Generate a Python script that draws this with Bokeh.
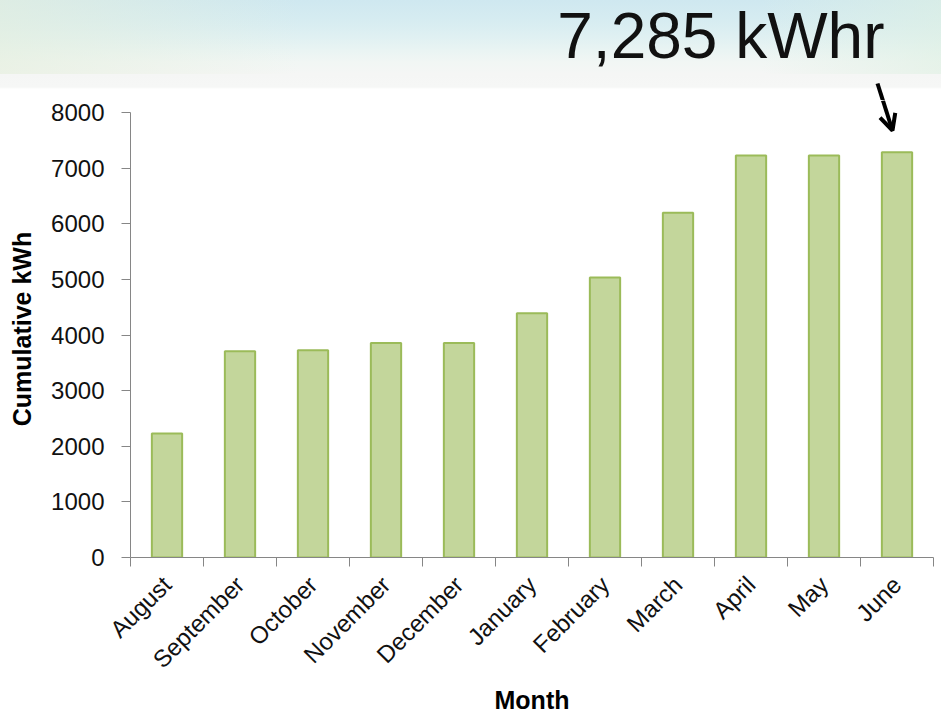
import math
from bokeh.plotting import figure
from bokeh.layouts import column
from bokeh.models import (Range1d, LinearAxis, FixedTicker, Label,
                          Arrow, OpenHead, ColumnDataSource)
from bokeh.embed import file_html
from bokeh.resources import INLINE

# ---- data ----
months = ["August", "September", "October", "November", "December", "January",
          "February", "March", "April", "May", "June"]
cumulative_kwh = [2230, 3710, 3725, 3855, 3855, 4390, 5035, 6200, 7225, 7225, 7285]
y_ticks = [0, 1000, 2000, 3000, 4000, 5000, 6000, 7000, 8000]

FONT = "Liberation Sans"
AXIS_GRAY = "#868686"
W, H = 941, 717
HEADER_H = 100                 # header strip (gradient + call-out text)
FRAME_L, FRAME_R = 130, 933    # plot frame, page px
Y8000_ROW, Y0_ROW = 112, 557   # rows of 8000 and 0

n = len(months)
slot_px = (FRAME_R - FRAME_L) / n
centers = [i + 0.5 for i in range(n)]
src = ColumnDataSource(dict(month=months, x=centers, kwh=cumulative_kwh))

def xpos(px):
    """page column -> slot coordinate"""
    return (px - FRAME_L) / slot_px

# ---------------- header strip ----------------
header_bg = (
    "linear-gradient(to right, rgba(229,239,221,0.65) 0px, rgba(229,239,221,0) 300px, "
    "rgba(222,240,226,0) 760px, rgba(222,240,226,0.6) 941px) 0 0 / 100% 74px no-repeat, "
    "linear-gradient(to bottom, #cfe8f0 0px, #d6ecf1 20px, #dff0f2 36px, #e9f4f3 50px, "
    "#f1f6f4 62px, #f5f6f5 74px, #f6f7f6 87px, #ffffff 89px, #ffffff 100%)"
)
hdr = figure(width=W, height=HEADER_H, output_backend="svg", toolbar_location=None,
             x_range=Range1d(0, n), y_range=Range1d(HEADER_H, 0),   # y = page rows
             x_axis_location=None, y_axis_location=None,
             min_border_left=FRAME_L, min_border_right=W - FRAME_R,
             min_border_top=0, min_border_bottom=0,
             styles={"background": header_bg})
hdr.outline_line_color = None
hdr.grid.grid_line_color = None
hdr.background_fill_color = None
hdr.border_fill_color = None

hdr.add_layout(Label(x=xpos(884), y=35,
                     text=f"{cumulative_kwh[-1]:,} kWhr",
                     text_align="right", text_baseline="alphabetic",
                     text_font=FONT, text_font_size="64px", text_color="#111111"))

# arrow: tail (877,83) -> tip (892,130) in page px; split at header bottom
ax0, ay0, ax1, ay1 = 877, 83, 892, 130
x_split = ax0 + (ax1 - ax0) * (HEADER_H - ay0) / (ay1 - ay0)
hdr.add_layout(Arrow(x_start=xpos(ax0), y_start=ay0,
                     x_end=xpos(x_split + 0.6), y_end=HEADER_H + 2,
                     line_width=4, line_color="black", end=None))

# ---------------- main chart ----------------
kwh_per_px = 8000 / (Y0_ROW - Y8000_ROW)
y_top = (Y0_ROW - HEADER_H) * kwh_per_px

p = figure(x_range=Range1d(0, n), y_range=Range1d(0, y_top),
           width=W, height=H - HEADER_H, output_backend="svg", toolbar_location=None,
           x_axis_location=None, min_border_left=FRAME_L, min_border_right=W - FRAME_R,
           min_border_top=0, min_border_bottom=H - Y0_ROW)
p.outline_line_color = None
p.grid.grid_line_color = None
p.background_fill_color = "white"
p.border_fill_color = "white"

p.vbar(x="x", top="kwh", source=src, width=0.415, fill_color="#c3d69b",
       line_color="#9bbb59", line_width=2)

# y axis
ya = p.yaxis[0]
ya.bounds = (0, 8000)
ya.ticker = FixedTicker(ticks=y_ticks)
ya.axis_line_color = AXIS_GRAY
ya.major_tick_line_color = AXIS_GRAY
ya.major_tick_out = 9
ya.major_tick_in = 0
ya.minor_tick_line_color = None
ya.major_label_text_font = FONT
ya.major_label_text_font_size = "24px"
ya.major_label_text_color = "#111111"
ya.major_label_standoff = 17
ya.axis_label = "Cumulative kWh"
ya.axis_label_text_font = FONT
ya.axis_label_text_font_style = "bold"
ya.axis_label_text_font_size = "25px"
ya.axis_label_text_color = "#000000"
ya.axis_label_standoff = 12

# x axis: ticks at category boundaries, labels at centres
xa = LinearAxis(ticker=FixedTicker(ticks=centers, minor_ticks=list(range(n + 1))),
                major_label_overrides={c: m for c, m in zip(centers, months)})
xa.axis_line_color = AXIS_GRAY
xa.major_tick_line_color = None
xa.major_tick_out = 0
xa.major_tick_in = 0
xa.minor_tick_line_color = AXIS_GRAY
xa.minor_tick_out = 9
xa.minor_tick_in = 0
xa.major_label_orientation = math.pi / 4
xa.major_label_text_font = FONT
xa.major_label_text_font_size = "24px"
xa.major_label_text_color = "#111111"
xa.major_label_standoff = 14
xa.axis_label = "Month"
xa.axis_label_text_font = FONT
xa.axis_label_text_font_style = "bold"
xa.axis_label_text_font_size = "25px"
xa.axis_label_text_color = "#000000"
xa.axis_label_standoff = 0
p.add_layout(xa, "below")

# lower part of the call-out arrow (with head)
p.add_layout(Arrow(x_start=xpos(x_split), y_start=y_top,
                   x_end=xpos(ax1), y_end=(Y0_ROW - ay1) * kwh_per_px,
                   line_width=4, line_color="black",
                   end=OpenHead(size=16, line_width=4, line_color="black")))

layout = column(hdr, p, spacing=0)
open("out.html", "w").write(file_html(layout, INLINE))
